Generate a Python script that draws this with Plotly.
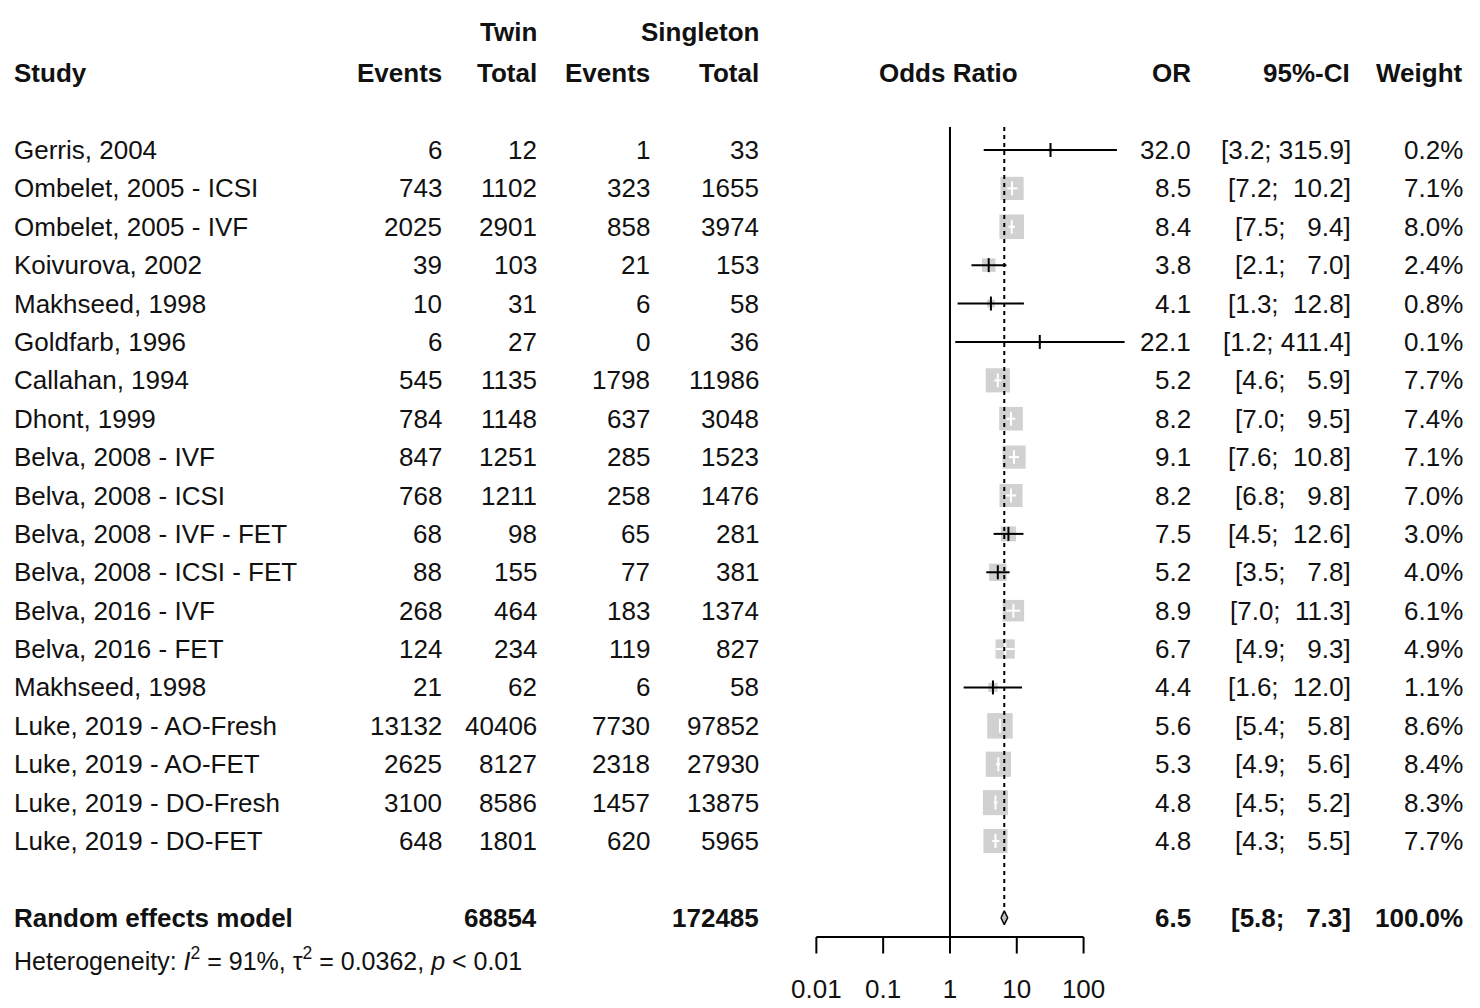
import math
import plotly.graph_objects as go

studies = ["Gerris, 2004", "Ombelet, 2005 - ICSI", "Ombelet, 2005 - IVF", "Koivurova, 2002",
           "Makhseed, 1998", "Goldfarb, 1996", "Callahan, 1994", "Dhont, 1999",
           "Belva, 2008 - IVF", "Belva, 2008 - ICSI", "Belva, 2008 - IVF - FET",
           "Belva, 2008 - ICSI - FET", "Belva, 2016 - IVF", "Belva, 2016 - FET",
           "Makhseed, 1998", "Luke, 2019 - AO-Fresh", "Luke, 2019 - AO-FET",
           "Luke, 2019 - DO-Fresh", "Luke, 2019 - DO-FET"]
twin_events = [6, 743, 2025, 39, 10, 6, 545, 784, 847, 768, 68, 88, 268, 124, 21, 13132, 2625, 3100, 648]
twin_total = [12, 1102, 2901, 103, 31, 27, 1135, 1148, 1251, 1211, 98, 155, 464, 234, 62, 40406, 8127, 8586, 1801]
single_events = [1, 323, 858, 21, 6, 0, 1798, 637, 285, 258, 65, 77, 183, 119, 6, 7730, 2318, 1457, 620]
single_total = [33, 1655, 3974, 153, 58, 36, 11986, 3048, 1523, 1476, 281, 381, 1374, 827, 58, 97852, 27930, 13875, 5965]
odds_ratio = [32.0, 8.5, 8.4, 3.8, 4.1, 22.1, 5.2, 8.2, 9.1, 8.2, 7.5, 5.2, 8.9, 6.7, 4.4, 5.6, 5.3, 4.8, 4.8]
ci_low = [3.2, 7.2, 7.5, 2.1, 1.3, 1.2, 4.6, 7.0, 7.6, 6.8, 4.5, 3.5, 7.0, 4.9, 1.6, 5.4, 4.9, 4.5, 4.3]
ci_high = [315.9, 10.2, 9.4, 7.0, 12.8, 411.4, 5.9, 9.5, 10.8, 9.8, 12.6, 7.8, 11.3, 9.3, 12.0, 5.8, 5.6, 5.2, 5.5]
weights = [0.2, 7.1, 8.0, 2.4, 0.8, 0.1, 7.7, 7.4, 7.1, 7.0, 3.0, 4.0, 6.1, 4.9, 1.1, 8.6, 8.4, 8.3, 7.7]

summary_label = "Random effects model"
summary_twin_total = 68854
summary_single_total = 172485
summary_or = 6.5
summary_low = 5.8
summary_high = 7.3
summary_weight = 100.0
heterogeneity = "Heterogeneity: <i>I</i><sup>2</sup> = 91%, τ<sup>2</sup> = 0.0362, <i>p</i> &lt; 0.01"
tick_values = [0.01, 0.1, 1, 10, 100]
tick_labels = ["0.01", "0.1", "1", "10", "100"]

W, H = 1480, 1008
FONT = "Liberation Sans, Arial, sans-serif"
FS = 26
XR = [-14.22, 7.934]          # log10 range of the x axis over full width
YR = [23.35, -2.907]          # row-index range of the y axis over full height
px_per_dec = W / (XR[1] - XR[0])

rows = list(range(1, len(studies) + 1))
sum_row = len(studies) + 2
axis_row = sum_row + 0.5

fig = go.Figure()

# squares
sizes = [8.7 * math.sqrt(w) for w in weights]
fig.add_trace(go.Scatter(x=odds_ratio, y=rows, mode="markers", cliponaxis=False,
                         marker=dict(symbol="square", size=sizes, color="#BEBEBE",
                                     line=dict(width=0)), hoverinfo="skip"))

# CI lines (white when fully inside the square)
bx, by, wx, wy, colors = [], [], [], [], []
for r, o, lo, hi, s in zip(rows, odds_ratio, ci_low, ci_high, sizes):
    inside = (px_per_dec * (math.log10(hi) - math.log10(o)) <= s / 2 and
              px_per_dec * (math.log10(o) - math.log10(lo)) <= s / 2)
    if inside:
        wx += [lo, hi, None]; wy += [r, r, None]; colors.append("white")
    else:
        bx += [lo, hi, None]; by += [r, r, None]; colors.append("black")
fig.add_trace(go.Scatter(x=bx, y=by, mode="lines", line=dict(color="black", width=2),
                         hoverinfo="skip", cliponaxis=False))
fig.add_trace(go.Scatter(x=wx, y=wy, mode="lines", line=dict(color="white", width=2),
                         hoverinfo="skip", cliponaxis=False))
fig.add_trace(go.Scatter(x=odds_ratio, y=rows, mode="markers", cliponaxis=False,
                         marker=dict(symbol="line-ns", size=10,
                                     line=dict(color=colors, width=2)), hoverinfo="skip"))

# reference line at 1 and dashed summary line
fig.add_trace(go.Scatter(x=[1, 1], y=[0.4, axis_row], mode="lines",
                         line=dict(color="black", width=2), hoverinfo="skip"))
dh = 0.18
fig.add_trace(go.Scatter(x=[summary_or, summary_or], y=[0.4, sum_row - dh], mode="lines",
                         line=dict(color="black", width=2, dash="4px,4px"), hoverinfo="skip"))

# diamond
fig.add_trace(go.Scatter(x=[summary_low, summary_or, summary_high, summary_or, summary_low],
                         y=[sum_row, sum_row - dh, sum_row, sum_row + dh, sum_row],
                         mode="lines", fill="toself", fillcolor="#BEBEBE",
                         line=dict(color="black", width=1.5), hoverinfo="skip"))

# x axis drawn manually
fig.add_trace(go.Scatter(x=[tick_values[0], tick_values[-1]], y=[axis_row, axis_row], mode="lines",
                         line=dict(color="black", width=2), hoverinfo="skip"))
tx, ty = [], []
for t in tick_values:
    tx += [t, t, None]; ty += [axis_row, axis_row + 0.43, None]
fig.add_trace(go.Scatter(x=tx, y=ty, mode="lines", line=dict(color="black", width=2),
                         hoverinfo="skip"))
fig.add_trace(go.Scatter(x=tick_values, y=[axis_row + 1.43] * len(tick_values), mode="text",
                         text=tick_labels, textposition="middle center", cliponaxis=False,
                         textfont=dict(family=FONT, size=FS, color="#111"), hoverinfo="skip"))

ann = []


def add(text, px, row, anchor, bold=False, size=FS):
    ann.append(dict(text=f"<b>{text}</b>" if bold else text, x=px / W, xref="paper",
                    y=row, yref="y", xanchor=anchor, yanchor="middle", showarrow=False,
                    font=dict(family=FONT, size=size, color="#111")))


def ci_text(lo, hi):
    return f"[{lo:.1f};\u00a0{f'{hi:.1f}'.rjust(5)}]".replace(" ", "\u00a0")


# headers
add("Study", 12, -1, "left", True)
add("Twin", 539, -2.07, "right", True)
add("Singleton", 761, -2.07, "right", True)
add("Events", 444, -1, "right", True)
add("Total", 539, -1, "right", True)
add("Events", 652, -1, "right", True)
add("Total", 761, -1, "right", True)
add("Odds Ratio", 948, -1, "center", True)
add("OR", 1193, -1, "right", True)
add("95%-CI", 1352, -1, "right", True)
add("Weight", 1465, -1, "right", True)

for i, r in enumerate(rows):
    add(studies[i], 12, r, "left")
    add(str(twin_events[i]), 444, r, "right")
    add(str(twin_total[i]), 539, r, "right")
    add(str(single_events[i]), 652, r, "right")
    add(str(single_total[i]), 761, r, "right")
    add(f"{odds_ratio[i]:.1f}", 1193, r, "right")
    add(ci_text(ci_low[i], ci_high[i]), 1353, r, "right")
    add(f"{weights[i]:.1f}%", 1465, r, "right")

add(summary_label, 12, sum_row, "left", True)
add(str(summary_twin_total), 539, sum_row, "right", True)
add(str(summary_single_total), 761, sum_row, "right", True)
add(f"{summary_or:.1f}", 1193, sum_row, "right", True)
add(ci_text(summary_low, summary_high), 1353, sum_row, "right", True)
add(f"{summary_weight:.1f}%", 1465, sum_row, "right", True)
add(heterogeneity, 12, sum_row + 1.08, "left", False, 25)

fig.update_layout(
    width=W, height=H, autosize=False, showlegend=False,
    margin=dict(l=0, r=0, t=0, b=0, pad=0),
    paper_bgcolor="white", plot_bgcolor="white",
    xaxis=dict(type="log", range=XR, visible=False, domain=[0, 1], fixedrange=True),
    yaxis=dict(range=YR, visible=False, domain=[0, 1], fixedrange=True),
    annotations=ann,
)

fig.write_html("out.html", config=dict(displayModeBar=False),
               post_script="document.body.style.margin='0';document.body.style.overflow='hidden';")
